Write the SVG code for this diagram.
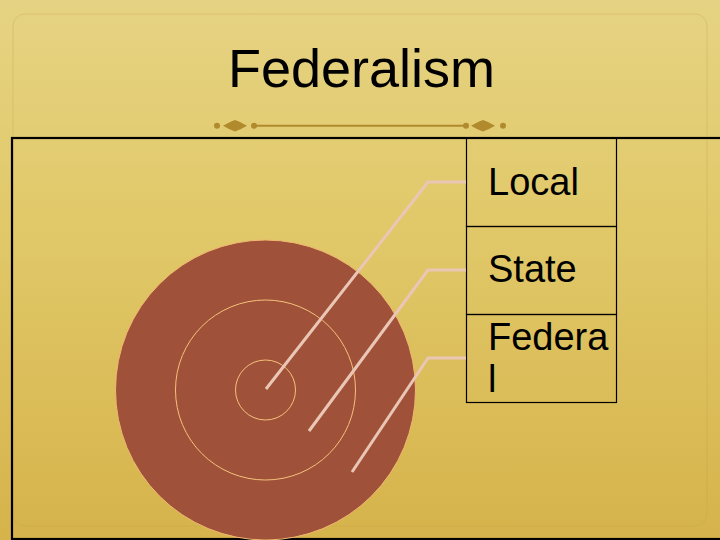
<svg xmlns="http://www.w3.org/2000/svg" width="720" height="540" viewBox="0 0 720 540">
  <defs>
    <linearGradient id="bg" x1="0" y1="0" x2="0" y2="1">
      <stop offset="0" stop-color="#e6d383"/>
      <stop offset="0.4" stop-color="#e1c96a"/>
      <stop offset="1" stop-color="#d6b34b"/>
    </linearGradient>
    <style>
      .lbl { font-family: "Liberation Sans", Arial, sans-serif; font-size: 38px; fill: #000; }
      .title { font-family: "Liberation Sans", Arial, sans-serif; font-size: 54px; fill: #000; }
      .box { fill: none; stroke: #000; stroke-width: 1.2; }
      .ring { fill: none; stroke: #f3c27a; stroke-width: 1; }
      .conn { fill: none; stroke: #eac6b4; stroke-width: 3; stroke-linejoin: round; }
      .orn { fill: #b08a2c; }
    </style>
  </defs>
  <rect width="720" height="540" fill="url(#bg)"/>
  <rect x="13" y="14" width="694" height="512" rx="12" fill="none" stroke="#b89a48" stroke-opacity="0.3" stroke-width="1"/>

  <text class="title" x="228" y="87">Federalism</text>

  <g id="ornament">
    <line x1="253" y1="125.7" x2="466" y2="125.7" stroke="#b08a2c" stroke-width="2"/>
    <circle class="orn" cx="217" cy="125.7" r="3"/>
    <circle class="orn" cx="254" cy="125.7" r="3"/>
    <circle class="orn" cx="466" cy="125.7" r="3"/>
    <circle class="orn" cx="503" cy="125.7" r="3"/>
    <path class="orn" d="M223 125.7 Q229 122 235 120 Q241 122 247 125.7 Q241 129.4 235 131.5 Q229 129.4 223 125.7 Z"/>
    <path class="orn" d="M471 125.7 Q477 122 483 120 Q489 122 495 125.7 Q489 129.4 483 131.5 Q477 129.4 471 125.7 Z"/>
  </g>

  <rect x="12" y="138" width="720" height="401" fill="none" stroke="#000" stroke-width="2.2"/>

  <g id="target">
    <circle cx="265.5" cy="390" r="150" fill="#a0513a" stroke="#f0b870" stroke-width="1"/>
    <circle class="ring" cx="265.5" cy="390" r="90"/>
    <circle class="ring" cx="265.5" cy="390" r="30"/>
  </g>

  <g id="node-local">
    <rect class="box" x="466.5" y="138" width="150" height="88.5"/>
    <text class="lbl" x="488" y="195">Local</text>
  </g>
  <g id="node-state">
    <rect class="box" x="466.5" y="226.5" width="150" height="88"/>
    <text class="lbl" x="488" y="282">State</text>
  </g>
  <g id="node-federal">
    <rect class="box" x="466.5" y="314.5" width="150" height="88"/>
    <text class="lbl" x="488" y="350">Federa</text>
    <text class="lbl" x="488" y="392">l</text>
  </g>

  <g id="connectors">
    <polyline class="conn" points="266,389 428,182 466,182"/>
    <polyline class="conn" points="309,431 428,270 466,270"/>
    <polyline class="conn" points="352,472 428,358 466,358"/>
  </g>
</svg>
